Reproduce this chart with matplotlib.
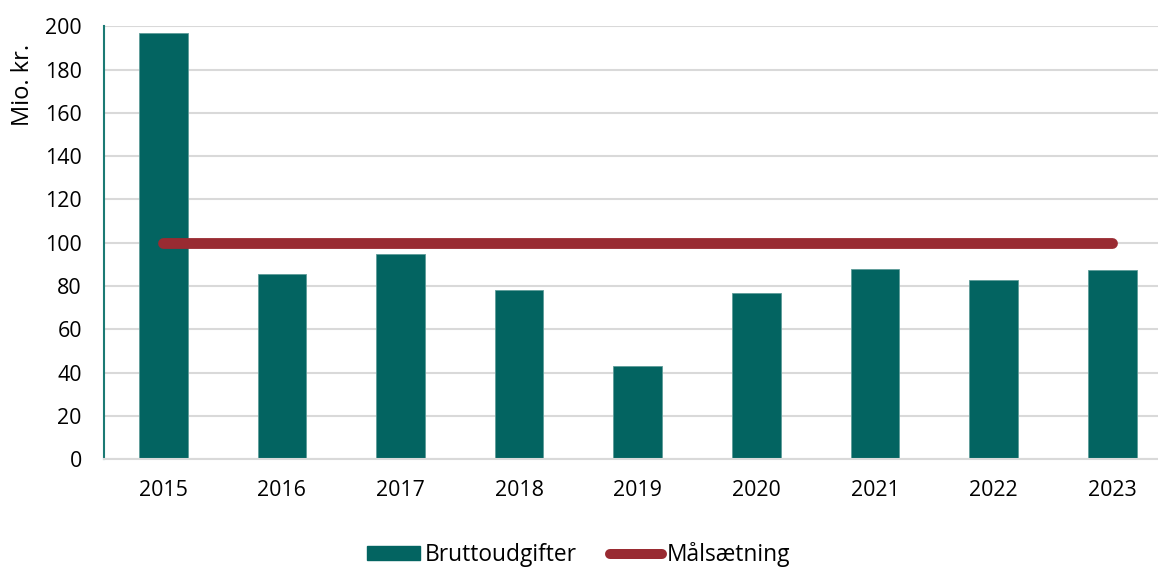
import matplotlib
matplotlib.use("Agg")
import matplotlib.pyplot as plt
from matplotlib.lines import Line2D
from matplotlib.patches import Patch

years = ["2015", "2016", "2017", "2018", "2019", "2020", "2021", "2022", "2023"]
bruttoudgifter = [196.9, 85.7, 94.9, 78.2, 43.3, 76.8, 87.8, 82.6, 87.6]
maalsaetning = [100, 100, 100, 100, 100, 100, 100, 100, 100]
yticks = [0, 20, 40, 60, 80, 100, 120, 140, 160, 180, 200]

bar_color = "#036461"
line_color = "#992B32"
grid_color = "#D9D9D9"

plt.rcParams['font.family'] = ['Open Sans', 'DejaVu Sans']
fig = plt.figure(figsize=(11.58, 5.72), dpi=100)
ax = fig.add_axes([104/1158, 112.7/572, 1067.6/1158, 433/572])

x = list(range(len(years)))
ax.bar(x, bruttoudgifter, width=0.41, color=bar_color, edgecolor="#5E9C99",
       linewidth=0.6, zorder=2)
ax.plot(x, maalsaetning, color=line_color, linewidth=7.8, solid_capstyle="round",
        zorder=3)

ax.set_xlim(-0.5, len(years) - 0.5)
ax.set_ylim(0, 200)
ax.set_yticks(yticks)
ax.set_yticklabels([str(v) for v in yticks])
ax.set_xticks(x)
ax.set_xticklabels(years)
ax.tick_params(axis="both", length=0, labelsize=15.4, colors="black")
ax.tick_params(axis="y", pad=16)
ax.tick_params(axis="x", pad=15)

ax.grid(axis="y", color=grid_color, linewidth=1.5, zorder=0)
ax.set_axisbelow(True)
for s in ["top", "right"]:
    ax.spines[s].set_visible(False)
ax.spines["left"].set_color("#1B7A74")
ax.spines["left"].set_linewidth(1.5)
ax.spines["bottom"].set_color(grid_color)
ax.spines["bottom"].set_linewidth(1.5)

ax.set_ylabel("Mio. kr.", fontsize=17, rotation=90, va="center", ha="center")
ax.yaxis.set_label_coords(-0.076, 0.865)

handles = [Patch(facecolor=bar_color, edgecolor=bar_color),
           Line2D([0], [0], color=line_color, linewidth=7.2, solid_capstyle="round")]
fig.legend(handles, ["Bruttoudgifter", "Målsætning"], loc="center",
           bbox_to_anchor=(0.5, 0.03), ncol=2, frameon=False, fontsize=16.4,
           handlelength=2.3, handleheight=0.55, handletextpad=0.22,
           columnspacing=1.45, borderpad=0)

fig.savefig("out.png", dpi=100)
